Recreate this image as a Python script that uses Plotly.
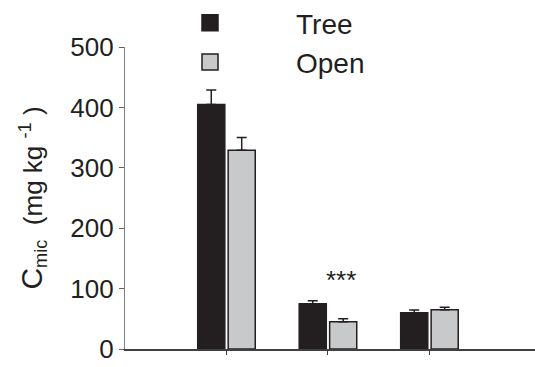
import plotly.graph_objects as go

# ---- data ----
categories = [1, 2, 3]
tree_vals = [405, 75, 60]
tree_err = [24, 5, 4.5]
open_vals = [329, 45, 65]
open_err = [21, 5, 4]
sig_labels = ["", "***", ""]
y_ticks = [0, 100, 200, 300, 400, 500]

DARK = "#231f20"
LIGHT = "#c8c9ca"
FONT = "Liberation Sans, Arial, Helvetica, sans-serif"

W, H = 535, 367
ML, MR, MT, MB = 125, 0, 47, 18
PW, PH = W - ML - MR, H - MT - MB

fig = go.Figure()
fig.add_trace(go.Bar(
    x=categories, y=tree_vals, name="Tree", showlegend=False,
    marker=dict(color=DARK, line=dict(color=DARK, width=1.5)),
    error_y=dict(type="data", array=tree_err, arrayminus=[0]*3, symmetric=False,
                 color=DARK, thickness=1.5, width=5),
))
fig.add_trace(go.Bar(
    x=categories, y=open_vals, name="Open", showlegend=False,
    marker=dict(color=LIGHT, line=dict(color=DARK, width=1.5)),
    error_y=dict(type="data", array=open_err, arrayminus=[0]*3, symmetric=False,
                 color=DARK, thickness=1.5, width=5),
))
# legend entries
fig.add_trace(go.Scatter(
    x=[None], y=[None], mode="markers", name="Tree", legendgroup="a",
    marker=dict(symbol="square", size=16, color=DARK, line=dict(color=DARK, width=1.5)),
))
fig.add_trace(go.Scatter(
    x=[None], y=[None], mode="markers", name="Open", legendgroup="b",
    marker=dict(symbol="square", size=16, color=LIGHT, line=dict(color=DARK, width=1.5)),
))

for c, lab, tv, te, ov, oe in zip(categories, sig_labels, tree_vals, tree_err, open_vals, open_err):
    if lab:
        fig.add_annotation(x=c + 0.13, y=max(tv + te, ov + oe) + 35, text=lab,
                           showarrow=False, xanchor="center", yanchor="middle",
                           font=dict(size=26, color=DARK, family=FONT))

fig.update_layout(
    width=W, height=H,
    margin=dict(l=ML, r=MR, t=MT, b=MB, autoexpand=False),
    paper_bgcolor="white", plot_bgcolor="white",
    barmode="group", bargap=0.4, bargroupgap=0.11,
    font=dict(family=FONT, color=DARK),
    showlegend=True,
    legend=dict(x=(124 - ML) / PW, y=1 + (MT + 2) / PH, xref="paper", yref="paper",
                xanchor="left", yanchor="top",
                font=dict(size=28, color=DARK, family=FONT),
                itemwidth=162, tracegroupgap=0, bgcolor="rgba(0,0,0,0)"),
)
fig.update_xaxes(range=[0, 4.04], showgrid=False, zeroline=False,
                 showline=True, linecolor="#404040", linewidth=1.5,
                 tickvals=categories, showticklabels=False,
                 ticks="outside", ticklen=4, tickwidth=1, tickcolor="#404040")
fig.update_yaxes(range=[0, 500], showgrid=False, zeroline=False,
                 showline=True, linecolor="#808080", linewidth=1.3,
                 tickvals=y_ticks, ticks="outside", ticklen=5, tickwidth=1, tickcolor="#606060",
                 tickfont=dict(size=26, color=DARK, family=FONT),
                 title=dict(text="<span style='font-size:30px'>C</span><sub>mic</sub>&nbsp;&nbsp;(mg kg&nbsp;<sup>-1</sup>&nbsp;)",
                            font=dict(size=26, color=DARK, family=FONT), standoff=20))

fig.write_html("out.html")
